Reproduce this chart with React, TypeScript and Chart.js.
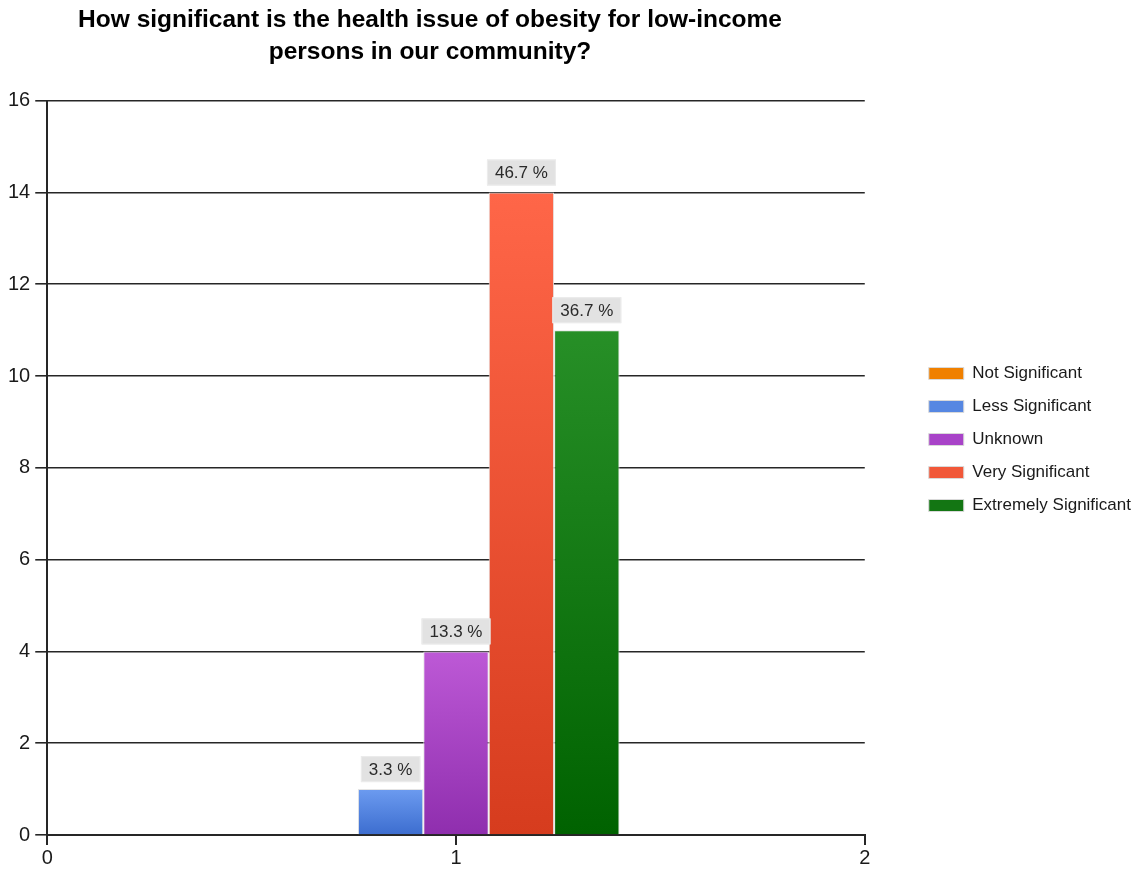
import React, { useEffect, useRef } from 'react';
import { Chart, registerables } from 'chart.js';

Chart.register(...registerables);

const TITLE_LINES = [
  'How significant is the health issue of obesity for low-income',
  'persons in our community?',
];
const SERIES_NAMES = [
  'Not Significant',
  'Less Significant',
  'Unknown',
  'Very Significant',
  'Extremely Significant',
];
const SERIES_VALUES = [0, 1, 4, 14, 11];
const X_POSITION = 1;
const X_MIN = 0;
const X_MAX = 2;
const Y_MIN = 0;
const Y_MAX = 16;
const Y_STEP = 2;

const TOP_COLORS = ['#ff9a1a', '#6c9bf0', '#bd59d6', '#ff6648', '#278f27'];
const BOTTOM_COLORS = ['#e07000', '#3c6dcf', '#8f2eae', '#d63c1e', '#006200'];
const LEGEND_COLORS = ['#f08000', '#5687e2', '#a843c8', '#f15839', '#137613'];

const FONT = "'Liberation Sans', Arial, sans-serif";
const TEXT_COLOR = '#1a1a1a';
const LINE_COLOR = '#262626';
const SPACER_WIDTH = 42;
const TITLE_SHIFT = 26;
const LEGEND_SHIFT = 6;

const total = SERIES_VALUES.reduce((a, b) => a + b, 0);

const dataLabelPlugin = {
  id: 'dataLabelBoxes',
  afterDatasetsDraw(chart: any) {
    const ctx = chart.ctx;
    ctx.save();
    ctx.font = `17px ${FONT}`;
    ctx.textAlign = 'center';
    ctx.textBaseline = 'middle';
    chart.data.datasets.forEach((ds: any, di: number) => {
      const meta = chart.getDatasetMeta(di);
      meta.data.forEach((bar: any, i: number) => {
        const v = ds.data[i].y;
        if (!v) return;
        const text = `${((v / total) * 100).toFixed(1)} %`;
        const w = ctx.measureText(text).width + 16;
        const h = 26;
        const bottom = bar.y - 7;
        ctx.fillStyle = '#e2e2e2';
        ctx.fillRect(bar.x - w / 2, bottom - h, w, h);
        ctx.strokeStyle = '#ececec';
        ctx.lineWidth = 1;
        ctx.strokeRect(bar.x - w / 2 + 0.5, bottom - h + 0.5, w - 1, h - 1);
        ctx.fillStyle = '#2a2a2a';
        ctx.fillText(text, bar.x, bottom - h / 2 + 1);
      });
    });
    ctx.restore();
  },
};

const layoutShiftPlugin = {
  id: 'layoutShift',
  afterLayout(chart: any) {
    const t = chart.titleBlock;
    if (t) {
      t.left -= TITLE_SHIFT;
      t.right -= TITLE_SHIFT;
    }
    const l = chart.legend;
    if (l) {
      l.left += LEGEND_SHIFT;
      l.right += LEGEND_SHIFT;
    }
  },
};

export default function App() {
  const canvasRef = useRef<HTMLCanvasElement | null>(null);

  useEffect(() => {
    document.documentElement.style.overflow = 'hidden';
    if (!canvasRef.current) return;
    const datasets = SERIES_NAMES.map((name, i) => ({
      label: name,
      data: [{ x: X_POSITION, y: SERIES_VALUES[i] }],
      backgroundColor: (c: any) => {
        if (c.type !== 'data' || !c.chart.scales || !c.chart.scales.y) return LEGEND_COLORS[i];
        const ys = c.chart.scales.y;
        const top = ys.getPixelForValue(c.parsed ? c.parsed.y : SERIES_VALUES[i]);
        const bottom = ys.getPixelForValue(0);
        if (!isFinite(top) || !isFinite(bottom) || top === bottom) return LEGEND_COLORS[i];
        const g = c.chart.ctx.createLinearGradient(0, top, 0, bottom);
        g.addColorStop(0, TOP_COLORS[i]);
        g.addColorStop(1, BOTTOM_COLORS[i]);
        return g;
      },
      borderColor: '#e4e4e4',
      borderWidth: 1,
      barPercentage: 1.0,
      categoryPercentage: 0.8,
    }));

    const chart = new Chart(canvasRef.current, {
      type: 'bar',
      data: { datasets },
      plugins: [dataLabelPlugin, layoutShiftPlugin],
      options: {
        animation: false,
        responsive: true,
        maintainAspectRatio: false,
        layout: { padding: { left: -5, right: 0, top: 0, bottom: 0 } },
        plugins: {
          tooltip: { enabled: false },
          title: {
            display: true,
            text: TITLE_LINES,
            fullSize: false,
            color: '#000',
            font: { family: FONT, size: 24.5, weight: 'bold', lineHeight: 1.28 },
            padding: { top: -3, bottom: 33 },
          },
          legend: {
            position: 'right',
            align: 'center',
            maxWidth: 320,
            labels: {
              boxWidth: 35,
              boxHeight: 12,
              padding: 16,
              color: TEXT_COLOR,
              font: { family: FONT, size: 17 },
              generateLabels: (ch: any) => {
                const items = (Chart.defaults as any).plugins.legend.labels.generateLabels(ch);
                return items.map((it: any, i: number) => ({
                  ...it,
                  fillStyle: LEGEND_COLORS[i],
                  strokeStyle: '#d9d9d9',
                  lineWidth: 1,
                }));
              },
            },
          },
        },
        scales: {
          x: {
            type: 'linear',
            min: X_MIN,
            max: X_MAX,
            offset: false,
            grid: {
              display: true,
              offset: false,
              drawOnChartArea: false,
              drawTicks: true,
              tickLength: 10,
              color: LINE_COLOR,
              lineWidth: 2,
            },
            border: { display: true, color: LINE_COLOR, width: 2 },
            ticks: {
              stepSize: 1,
              padding: 1,
              color: TEXT_COLOR,
              font: { family: FONT, size: 20 },
            },
          },
          y: {
            type: 'linear',
            min: Y_MIN,
            max: Y_MAX,
            grid: {
              display: true,
              drawOnChartArea: true,
              drawTicks: true,
              tickLength: 12,
              color: LINE_COLOR,
              lineWidth: 1.6,
            },
            border: { display: true, color: LINE_COLOR, width: 2 },
            ticks: {
              stepSize: Y_STEP,
              padding: 5,
              color: TEXT_COLOR,
              font: { family: FONT, size: 20 },
            },
          },
          ySpacer: {
            type: 'linear',
            position: 'right',
            display: true,
            grid: { display: false, drawTicks: false },
            border: { display: false },
            ticks: { display: false },
            afterFit: (s: any) => {
              s.width = SPACER_WIDTH;
            },
          },
        },
      } as any,
    });
    return () => chart.destroy();
  }, []);

  return (
    <div style={{ position: 'relative', width: '1127px', height: '863px' }}>
      <canvas ref={canvasRef} />
    </div>
  );
}
